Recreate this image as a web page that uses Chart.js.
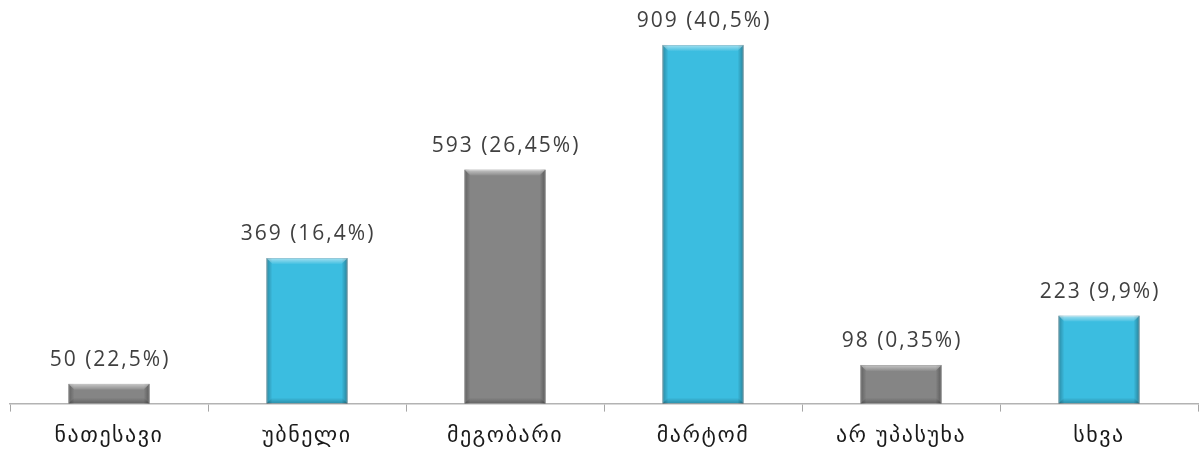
<!DOCTYPE html>
<html lang="ka">
<head>
    <meta charset="UTF-8">
    <title>Chart</title>
    <script src="https://cdn.jsdelivr.net/npm/chart.js"></script>
    <style>
        html, body {
            margin: 0;
            padding: 0;
            background: #ffffff;
        }
        #wrap {
            width: 1199px;
            height: 451px;
        }
    </style>
</head>
<body>
<div id="wrap"><canvas id="barChart"></canvas></div>
<script>
const categories = ['ნათესავი', 'უბნელი', 'მეგობარი', 'მარტომ', 'არ უპასუხა', 'სხვა'];
const counts = [50, 369, 593, 909, 98, 223];
const pointLabels = ['50 (22,5%)', '369 (16,4%)', '593 (26,45%)', '909 (40,5%)', '98 (0,35%)', '223 (9,9%)'];
const barKinds = ['gray', 'blue', 'gray', 'blue', 'gray', 'blue'];

const fills = { gray: '#858585', blue: '#3bbde0' };
const edges = { gray: '#5f5f5f', blue: '#2792b2' };

// a bit of letter spacing, the original text looks stretched
const spacing = {
    id: 'spacing',
    beforeDraw(chart) {
        chart.ctx.letterSpacing = '1.5px';
    }
};

// labels above the bars
const valueLabels = {
    id: 'valueLabels',
    afterDatasetsDraw(chart) {
        const c = chart.ctx;
        const meta = chart.getDatasetMeta(0);
        c.save();
        c.letterSpacing = '2px';
        c.font = '21px "Open Sans", "DejaVu Sans", sans-serif';
        c.fillStyle = '#404040';
        c.textAlign = 'center';
        c.textBaseline = 'middle';
        meta.data.forEach((bar, i) => {
            c.fillText(pointLabels[i], bar.x + 1, bar.y - 24);
        });
        c.restore();
    }
};

// bevel shading over each bar
const bevel = {
    id: 'bevel',
    afterDatasetsDraw(chart) {
        const c = chart.ctx;
        const meta = chart.getDatasetMeta(0);
        c.save();
        meta.data.forEach((bar) => {
            const l = bar.x - bar.width / 2;
            const r = bar.x + bar.width / 2;
            const t = bar.y;
            const b = bar.base;
            const e = 6;

            let g = c.createLinearGradient(l, 0, l + e, 0);
            g.addColorStop(0, 'rgba(0,0,0,0.28)');
            g.addColorStop(1, 'rgba(0,0,0,0)');
            c.fillStyle = g;
            c.fillRect(l, t, e, b - t);

            g = c.createLinearGradient(r - e, 0, r, 0);
            g.addColorStop(0, 'rgba(0,0,0,0)');
            g.addColorStop(1, 'rgba(0,0,0,0.32)');
            c.fillStyle = g;
            c.fillRect(r - e, t, e, b - t);

            const h = Math.min(e, (b - t) / 2);
            g = c.createLinearGradient(0, t, 0, t + h);
            g.addColorStop(0, 'rgba(255,255,255,0.55)');
            g.addColorStop(1, 'rgba(255,255,255,0.05)');
            c.fillStyle = g;
            c.beginPath();
            c.moveTo(l, t);
            c.lineTo(r, t);
            c.lineTo(r - e, t + h);
            c.lineTo(l + e, t + h);
            c.closePath();
            c.fill();

            g = c.createLinearGradient(0, b - h, 0, b);
            g.addColorStop(0, 'rgba(0,0,0,0)');
            g.addColorStop(1, 'rgba(0,0,0,0.25)');
            c.fillStyle = g;
            c.beginPath();
            c.moveTo(l + e, b - h);
            c.lineTo(r - e, b - h);
            c.lineTo(r, b);
            c.lineTo(l, b);
            c.closePath();
            c.fill();
        });
        c.restore();
    }
};

new Chart(document.getElementById('barChart').getContext('2d'), {
    type: 'bar',
    data: {
        labels: categories,
        datasets: [{
            data: counts,
            backgroundColor: barKinds.map(k => fills[k]),
            borderColor: barKinds.map(k => edges[k]),
            borderWidth: 1,
            categoryPercentage: 0.41,
            barPercentage: 1
        }]
    },
    options: {
        responsive: true,
        maintainAspectRatio: false,
        animation: false,
        layout: { padding: { left: 10, right: 1, top: 9, bottom: -9 } },
        plugins: {
            legend: { display: false },
            tooltip: { enabled: false }
        },
        scales: {
            x: {
                grid: {
                    offset: true,
                    drawOnChartArea: false,
                    drawTicks: true,
                    tickLength: 8,
                    color: '#a6a6a6'
                },
                border: { color: '#b3b3b3', width: 1.5 },
                ticks: {
                    color: '#1a1a1a',
                    font: { family: '"DejaVu Sans", sans-serif', size: 22 },
                    padding: 11
                }
            },
            y: {
                display: false,
                min: 0,
                max: 1000
            }
        }
    },
    plugins: [spacing, bevel, valueLabels]
});
</script>
</body>
</html>
